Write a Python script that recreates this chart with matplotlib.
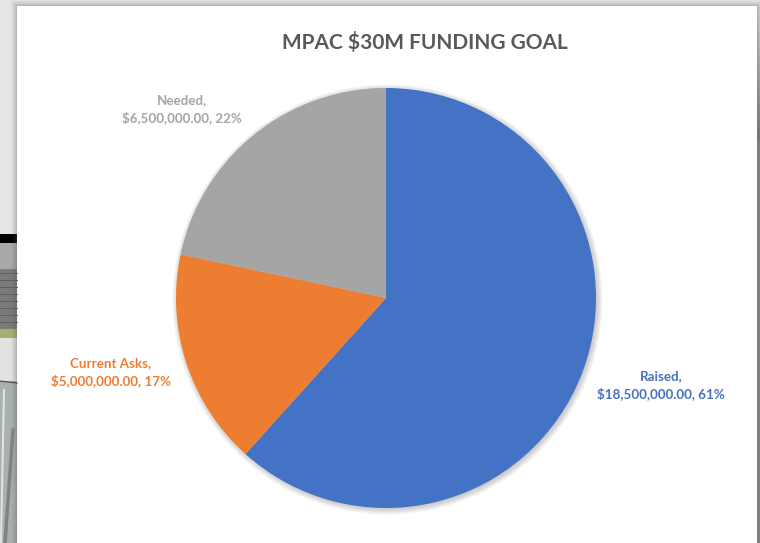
import matplotlib
matplotlib.use('Agg')
import matplotlib.pyplot as plt
from matplotlib.patches import Rectangle, Circle
import numpy as np

plt.rcParams['font.family'] = ['Lato', 'DejaVu Sans']

categories = ['Raised', 'Current Asks', 'Needed']
amounts = [18500000, 5000000, 6500000]
percents = [61, 17, 22]
colors = ['#4472C4', '#ED7D31', '#A5A5A5']

W, H = 760, 543
fig = plt.figure(figsize=(W / 100, H / 100), dpi=100, facecolor='#e6e6e6')

# backdrop behind the chart card, in pixel coordinates
bg = fig.add_axes([0, 0, 1, 1])
bg.add_patch(Rectangle((0, 234), 17, 9, color='#000000', lw=0))
bg.add_patch(Rectangle((0, 243), 17, 26, color='#a9a9a9', lw=0))
bg.add_patch(Rectangle((0, 269), 17, 60, color='#7b7b7b', lw=0))
for y in range(273, 329, 7):
    bg.plot([0, 17], [y, y], color='#5f5f5f', lw=0.7)
bg.add_patch(Rectangle((0, 329), 17, 9, color='#a2b06f', lw=0))
bg.add_patch(Rectangle((0, 338), 17, 43, color='#e2e2e0', lw=0))
bg.add_patch(Rectangle((0, 381), 17, 162, color='#a9b1ae', lw=0))
bg.plot([0, 17], [381, 383], color='#444444', lw=0.8)
bg.plot([4, 1], [390, 543], color='#dfe3e2', lw=1.5)
bg.plot([13, 5], [430, 543], color='#7f8480', lw=2.5)

# soft shadow round the white card
for i, a in zip(range(6, 0, -1), [0.03, 0.04, 0.05, 0.06, 0.08, 0.10]):
    bg.add_patch(Rectangle((17 - i, 6 - i), 740 + 2 * i, 537 + 2 * i,
                           color='#555555', alpha=a, lw=0))
bg.add_patch(Rectangle((17, 6), 740, 537, color='white', lw=0))

# right edge gets darker going down
edge = np.linspace(0.9, 0.5, 64).reshape(-1, 1)
bg.imshow(edge, extent=(757, 760, 140, 6), cmap='gray', vmin=0, vmax=1, aspect='auto')
bg.add_patch(Rectangle((757, 140), 3, 403, color='#808080', lw=0))
bg.set_xlim(0, W)
bg.set_ylim(H, 0)
bg.axis('off')

# pie
cx, cy, r = 386, 298, 210
ax = fig.add_axes([(cx - r) / W, 1 - (cy + r) / H, 2 * r / W, 2 * r / H])
ax.patch.set_alpha(0)

# blurred shadow, slightly toward lower right
for px in range(7, 0, -1):
    ax.add_patch(Circle((1.5 / r, -1.5 / r), 1 + (px - 2) / r, color='#666666', alpha=0.06,
                        lw=0, clip_on=False))

wedges, _ = ax.pie(amounts, colors=colors, startangle=90, counterclock=False, radius=1)
for w in wedges:
    w.set_linewidth(0)
    w.set_clip_on(False)
ax.set_xlim(-1, 1)
ax.set_ylim(-1, 1)
ax.axis('off')

# titles and labels
fig.text(425 / W, 1 - 43 / H, 'MPAC $30M FUNDING GOAL', ha='center', va='center',
         fontsize=15, fontweight='bold', color='#595959')

label_pos = [(661, 385), (111, 372), (182, 109)]
for cat, amt, pct, col, (x, y) in zip(categories, amounts, percents, colors, label_pos):
    fig.text(x / W, 1 - y / H, f'{cat},\n${amt:,.2f}, {pct}%', ha='center', va='center',
             fontsize=9.6, fontweight='bold', color=col, linespacing=1.45)

fig.savefig('out.png', dpi=100)
